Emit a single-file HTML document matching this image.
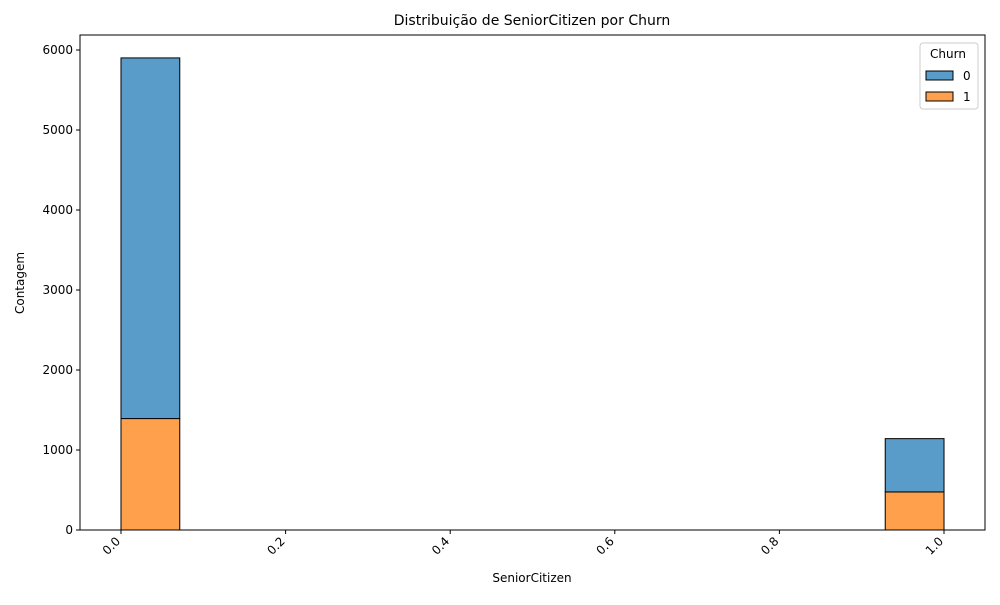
<!DOCTYPE html>
<html><head><meta charset="utf-8"><style>
body{margin:0;background:#fff;font-family:"Liberation Sans","DejaVu Sans",sans-serif}
svg text{font-family:"DejaVu Sans","Liberation Sans",sans-serif}
</style></head><body>
<svg id="c" width="1000" height="600" viewBox="0 0 1000 600"></svg>
<script>
const binCenters=[0.0357,0.9643];
const churn0=[4508,666];
const churn1=[1393,476];
const yTicks=[0,1000,2000,3000,4000,5000,6000];
const xTicks=["0.0","0.2","0.4","0.6","0.8","1.0"];
const nBins=14;
const L=80,R=985,T=35,B=530;
const xs=v=>121+v*823;
const ys=v=>B-v*0.08;
const svg=document.getElementById('c');
const NS='http://www.w3.org/2000/svg';
function mk(t,a,txt){const e=document.createElementNS(NS,t);for(const k in a)e.setAttribute(k,a[k]);if(txt!==undefined)e.textContent=txt;svg.appendChild(e);return e;}
const bw=1/nBins;
// zero-height bins baseline
let ln=mk('line',{x1:xs(0),x2:xs(1),y1:B,y2:B,stroke:'#000','stroke-width':1});


binCenters.forEach((c,i)=>{
  const x0=xs(c-bw/2),x1=xs(c+bw/2);
  let r=mk('rect',{x:x0,y:ys(churn1[i]),width:x1-x0,height:ys(0)-ys(churn1[i]),fill:'#ffa04d',stroke:'#000','stroke-width':1});
  
  
  let r2=mk('rect',{x:x0,y:ys(churn1[i]+churn0[i]),width:x1-x0,height:ys(churn1[i])-ys(churn1[i]+churn0[i]),fill:'#599cc9',stroke:'#000','stroke-width':1});
  
  
});
let fr=mk('rect',{x:L,y:T,width:R-L,height:B-T,fill:'none',stroke:'#000','stroke-width':1});


yTicks.forEach(v=>{
  mk('line',{x1:L-4,x2:L,y1:ys(v),y2:ys(v),stroke:'#000'});
  let t=mk('text',{x:L-7,y:ys(v)+4,'text-anchor':'end','font-size':12},String(v));
  
  
});
xTicks.forEach(s=>{
  const x=xs(parseFloat(s));
  mk('line',{x1:x,x2:x,y1:B,y2:B+4,stroke:'#000'});
  let t=mk('text',{x:x,y:B+12,'text-anchor':'end','font-size':12,transform:`rotate(-45 ${x} ${B+12})`},s);
  
  
});
let t=mk('text',{x:532,y:582,'text-anchor':'middle','font-size':12},'SeniorCitizen');

t=mk('text',{x:24,y:283,'text-anchor':'middle','font-size':12,transform:'rotate(-90 24 283)'},'Contagem');

t=mk('text',{x:532,y:25,'text-anchor':'middle','font-size':14},'Distribuição de SeniorCitizen por Churn');

let lg=mk('rect',{x:920,y:43,width:58,height:66,rx:3,fill:'#fff',stroke:'#ccc'});

t=mk('text',{x:948,y:58,'text-anchor':'middle','font-size':12},'Churn');

[['#599cc9','0',71],['#ffa04d','1',92]].forEach(([c,l,y])=>{
  let p=mk('rect',{x:926,y:y,width:27,height:9,fill:c,stroke:'#000'});
  
  let e=mk('text',{x:963,y:y+9,'font-size':12},l);
  
});
</script>
</body></html>
